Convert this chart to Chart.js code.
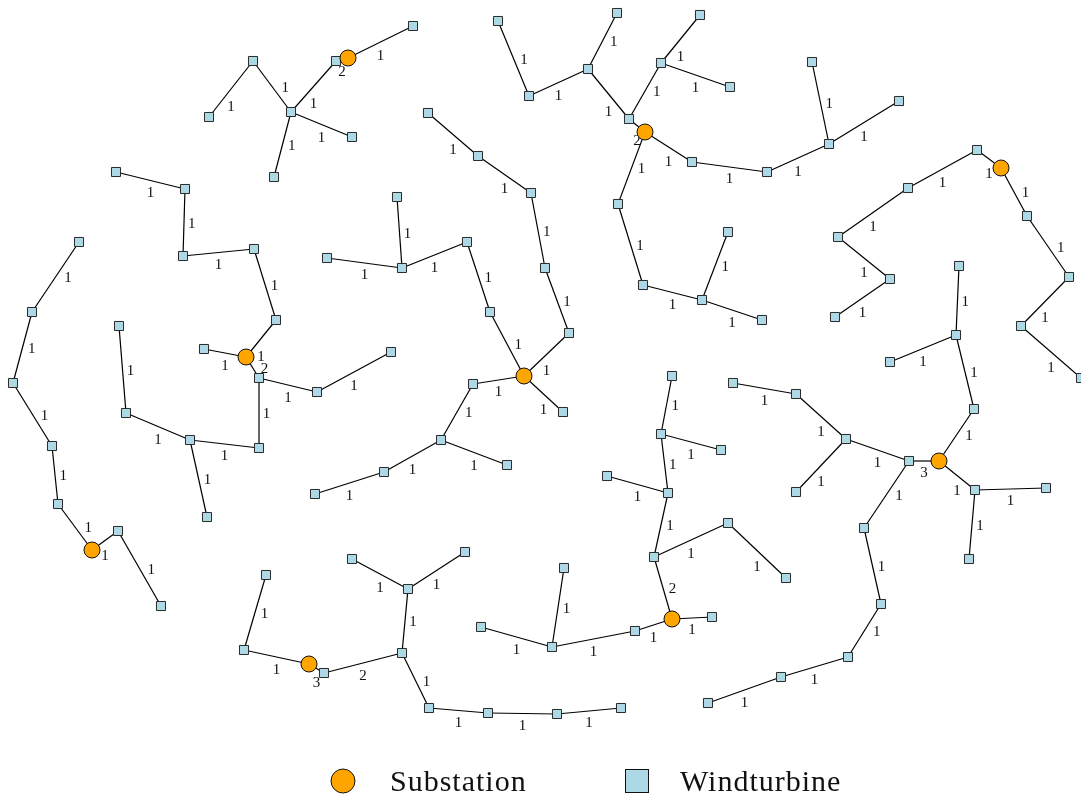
<!DOCTYPE html>
<html>
<head>
<meta charset="utf-8">
<script src="https://cdn.jsdelivr.net/npm/chart.js@4/dist/chart.umd.min.js"></script>
<style>
  html, body { margin: 0; padding: 0; background: #fff; }
  #wrap { width: 1081px; height: 794px; position: relative; }
</style>
</head>
<body>
<div id="wrap"><canvas id="grid"></canvas></div>
<script>
// Offshore wind farm collection grid: layout positions (x to the right, y downwards)
const substations = [
  ['S1', 348, 58], ['S2', 246, 357], ['S3', 92, 550],
  ['S4', 524, 376], ['S5', 645, 132], ['S6', 1001, 168],
  ['S7', 939, 461], ['S8', 672, 619], ['S9', 309, 664]
];

const turbines = [
  ['a1', 413, 26], ['a2', 336, 61], ['a3', 291, 112], ['a4', 253, 61],
  ['a5', 209, 117], ['a6', 352, 137], ['a7', 274, 177],
  ['b1', 204, 349], ['b2', 276, 320], ['b3', 254, 249], ['b4', 183, 256],
  ['b5', 185, 189], ['b6', 116, 172], ['b7', 259, 378], ['b8', 259, 448],
  ['b9', 190, 440], ['b10', 126, 413], ['b11', 119, 326], ['b12', 207, 517],
  ['b13', 317, 392], ['b14', 391, 352],
  ['c1', 118, 531], ['c2', 161, 606], ['c3', 58, 504], ['c4', 52, 446],
  ['c5', 13, 383], ['c6', 32, 312], ['c7', 79, 242],
  ['d1', 490, 312], ['d2', 467, 242], ['d3', 402, 268], ['d4', 327, 258],
  ['d5', 397, 197], ['d6', 569, 333], ['d7', 545, 268], ['d8', 531, 193],
  ['d9', 478, 156], ['d10', 428, 113], ['d11', 563, 412], ['d12', 473, 384],
  ['d13', 441, 440], ['d14', 507, 465], ['d15', 384, 472], ['d16', 315, 494],
  ['e1', 629, 119], ['e2', 588, 69], ['e3', 617, 13], ['e4', 529, 96],
  ['e5', 498, 21], ['e6', 661, 63], ['e7', 700, 15], ['e8', 730, 87],
  ['e9', 692, 162], ['e10', 767, 172], ['e11', 829, 144], ['e12', 812, 62],
  ['e13', 899, 101], ['e14', 618, 204], ['e15', 643, 285], ['e16', 702, 300],
  ['e17', 728, 232], ['e18', 762, 320],
  ['f1', 977, 150], ['f2', 908, 188], ['f3', 838, 237], ['f4', 890, 279],
  ['f5', 835, 317], ['f6', 1027, 216], ['f7', 1069, 277], ['f8', 1021, 326],
  ['f9', 1081, 378],
  ['g1', 909, 461], ['g2', 846, 439], ['g3', 796, 394], ['g4', 733, 383],
  ['g5', 796, 492], ['g6', 864, 528], ['g7', 881, 604], ['g8', 848, 657],
  ['g9', 781, 677], ['g10', 708, 703], ['g11', 974, 409], ['g12', 956, 335],
  ['g13', 959, 266], ['g14', 890, 362], ['g15', 975, 490], ['g16', 1046, 488],
  ['g17', 969, 559],
  ['h1', 654, 557], ['h2', 728, 523], ['h3', 786, 578], ['h4', 668, 493],
  ['h5', 607, 476], ['h6', 661, 434], ['h7', 721, 450], ['h8', 672, 376],
  ['h9', 712, 617], ['h10', 635, 631], ['h11', 552, 647], ['h12', 564, 568],
  ['h13', 481, 627],
  ['i1', 324, 673], ['i2', 402, 653], ['i3', 408, 589], ['i4', 352, 559],
  ['i5', 465, 552], ['i6', 429, 708], ['i7', 488, 713], ['i8', 557, 714],
  ['i9', 621, 708], ['i10', 244, 650], ['i11', 266, 575]
];

// Cable links: [from, to, number of cables]
const cables = [
  ['S1', 'a1', 1], ['S1', 'a2', 2], ['a2', 'a3', 1], ['a3', 'a4', 1],
  ['a4', 'a5', 1], ['a3', 'a6', 1], ['a3', 'a7', 1],
  ['S2', 'b1', 1], ['S2', 'b2', 1], ['b2', 'b3', 1], ['b3', 'b4', 1],
  ['b4', 'b5', 1], ['b5', 'b6', 1], ['S2', 'b7', 2], ['b7', 'b8', 1],
  ['b8', 'b9', 1], ['b9', 'b10', 1], ['b10', 'b11', 1], ['b9', 'b12', 1],
  ['b7', 'b13', 1], ['b13', 'b14', 1],
  ['S3', 'c1', 1], ['c1', 'c2', 1], ['S3', 'c3', 1], ['c3', 'c4', 1],
  ['c4', 'c5', 1], ['c5', 'c6', 1], ['c6', 'c7', 1],
  ['S4', 'd1', 1], ['d1', 'd2', 1], ['d2', 'd3', 1], ['d3', 'd4', 1],
  ['d3', 'd5', 1], ['S4', 'd6', 1], ['d6', 'd7', 1], ['d7', 'd8', 1],
  ['d8', 'd9', 1], ['d9', 'd10', 1], ['S4', 'd11', 1], ['S4', 'd12', 1],
  ['d12', 'd13', 1], ['d13', 'd14', 1], ['d13', 'd15', 1], ['d15', 'd16', 1],
  ['S5', 'e1', 2], ['e1', 'e2', 1], ['e2', 'e3', 1], ['e2', 'e4', 1],
  ['e4', 'e5', 1], ['e1', 'e6', 1], ['e6', 'e7', 1], ['e6', 'e8', 1],
  ['S5', 'e9', 1], ['e9', 'e10', 1], ['e10', 'e11', 1], ['e11', 'e12', 1],
  ['e11', 'e13', 1], ['S5', 'e14', 1], ['e14', 'e15', 1], ['e15', 'e16', 1],
  ['e16', 'e17', 1], ['e16', 'e18', 1],
  ['S6', 'f1', 1], ['f1', 'f2', 1], ['f2', 'f3', 1], ['f3', 'f4', 1],
  ['f4', 'f5', 1], ['S6', 'f6', 1], ['f6', 'f7', 1], ['f7', 'f8', 1],
  ['f8', 'f9', 1],
  ['S7', 'g1', 3], ['g1', 'g2', 1], ['g2', 'g3', 1], ['g3', 'g4', 1],
  ['g2', 'g5', 1], ['g1', 'g6', 1], ['g6', 'g7', 1], ['g7', 'g8', 1],
  ['g8', 'g9', 1], ['g9', 'g10', 1], ['S7', 'g11', 1], ['g11', 'g12', 1],
  ['g12', 'g13', 1], ['g12', 'g14', 1], ['S7', 'g15', 1], ['g15', 'g16', 1],
  ['g15', 'g17', 1],
  ['S8', 'h1', 2], ['h1', 'h2', 1], ['h2', 'h3', 1], ['h1', 'h4', 1],
  ['h4', 'h5', 1], ['h4', 'h6', 1], ['h6', 'h7', 1], ['h6', 'h8', 1],
  ['S8', 'h9', 1], ['S8', 'h10', 1], ['h10', 'h11', 1], ['h11', 'h12', 1],
  ['h11', 'h13', 1],
  ['S9', 'i1', 3], ['i1', 'i2', 2], ['i2', 'i3', 1], ['i3', 'i4', 1],
  ['i3', 'i5', 1], ['i2', 'i6', 1], ['i6', 'i7', 1], ['i7', 'i8', 1],
  ['i8', 'i9', 1], ['S9', 'i10', 1], ['i10', 'i11', 1]
];

const legendLabels = ['Substation', 'Windturbine'];

// ---- build datasets ----
const nodeIndex = {};
substations.concat(turbines).forEach(([id, x, y]) => { nodeIndex[id] = { x, y }; });

const ORANGE = '#ffa500';
const LIGHTBLUE = '#add8e6';
const SERIF = '"Liberation Serif", "DejaVu Serif", serif';

const datasets = [
  {
    label: legendLabels[0],
    data: substations.map(([, x, y]) => ({ x, y })),
    pointStyle: 'circle',
    pointRadius: 8,
    backgroundColor: ORANGE,
    borderColor: '#111',
    borderWidth: 1,
    order: 1
  },
  {
    label: legendLabels[1],
    data: turbines.map(([, x, y]) => ({ x, y })),
    pointStyle: 'rect',
    pointRadius: 6.4,
    backgroundColor: LIGHTBLUE,
    borderColor: '#2a2a2a',
    borderWidth: 1,
    order: 2
  }
];

cables.forEach(([a, b]) => {
  datasets.push({
    label: 'cable',
    data: [nodeIndex[a], nodeIndex[b]],
    showLine: true,
    pointRadius: 0,
    borderColor: '#000',
    borderWidth: 1.2,
    order: 3
  });
});

// Cable count written beside each link: below shallow links, right of steep ones
const cableLabels = {
  id: 'cableLabels',
  beforeDatasetsDraw(chart) {
    const { ctx, scales } = chart;
    ctx.save();
    ctx.fillStyle = '#111';
    ctx.font = '15px ' + SERIF;
    ctx.textAlign = 'center';
    ctx.textBaseline = 'alphabetic';
    const w = 2.5, h = 6, gap = 5;
    cables.forEach(([a, b, n]) => {
      const pa = nodeIndex[a], pb = nodeIndex[b];
      const x1 = scales.x.getPixelForValue(pa.x), y1 = scales.y.getPixelForValue(pa.y);
      const x2 = scales.x.getPixelForValue(pb.x), y2 = scales.y.getPixelForValue(pb.y);
      const mx = (x1 + x2) / 2, my = (y1 + y2) / 2;
      const theta = Math.atan2(Math.abs(y2 - y1), Math.abs(x2 - x1));
      let lx = mx, ly = my;
      if (theta < 52.5 * Math.PI / 180) {
        ly = my + h + (gap + w * Math.sin(theta)) / Math.cos(theta);
      } else {
        lx = mx + w + (gap + h * Math.cos(theta)) / Math.sin(theta);
      }
      ctx.fillText(String(n), lx, ly + 5);
    });
    ctx.restore();
  }
};

// Legend row under the grid
const legendRow = {
  id: 'legendRow',
  afterDraw(chart) {
    const { ctx } = chart;
    ctx.save();
    ctx.lineWidth = 1;
    ctx.strokeStyle = '#111';
    ctx.beginPath();
    ctx.arc(343, 781, 12, 0, Math.PI * 2);
    ctx.fillStyle = ORANGE;
    ctx.fill();
    ctx.stroke();
    ctx.fillStyle = LIGHTBLUE;
    ctx.fillRect(625, 769, 23, 23);
    ctx.strokeRect(625.5, 769.5, 23, 23);
    ctx.fillStyle = '#111';
    ctx.font = '30px ' + SERIF;
    ctx.textAlign = 'left';
    ctx.textBaseline = 'alphabetic';
    if ('letterSpacing' in ctx) ctx.letterSpacing = '1px';
    ctx.fillText(legendLabels[0], 390, 791);
    ctx.fillText(legendLabels[1], 680, 791);
    ctx.restore();
  }
};

new Chart(document.getElementById('grid'), {
  type: 'scatter',
  data: { datasets },
  options: {
    responsive: true,
    maintainAspectRatio: false,
    animation: false,
    events: [],
    layout: { padding: 0, autoPadding: false },
    plugins: { legend: { display: false }, tooltip: { enabled: false } },
    scales: {
      x: { type: 'linear', min: 0, max: 1081, display: false },
      y: { type: 'linear', min: 0, max: 794, reverse: true, display: false }
    }
  },
  plugins: [cableLabels, legendRow]
});
</script>
</body>
</html>
